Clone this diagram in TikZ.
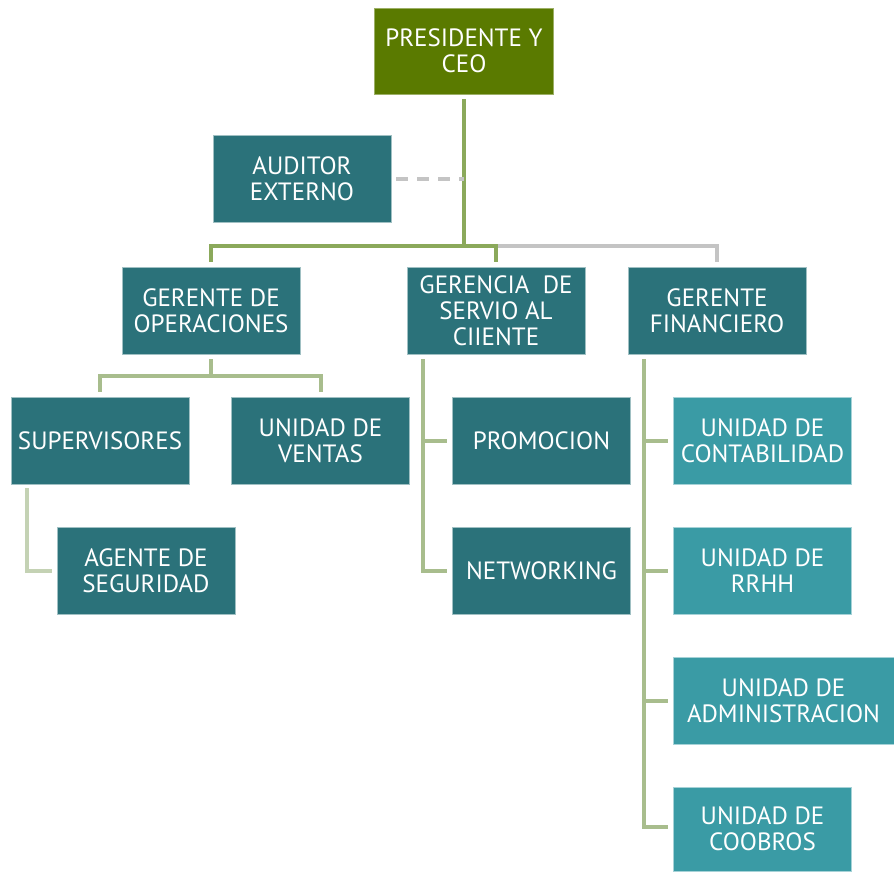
\documentclass[tikz,border=0pt]{standalone}
\usepackage{fontspec}
\setmainfont{PT Sans}
\definecolor{tealdark}{HTML}{2B727A}
\definecolor{teallight}{HTML}{3A9BA5}
\definecolor{olive}{HTML}{5A7A00}
\definecolor{gA}{HTML}{8BA95B}
\definecolor{gB}{HTML}{A8BD8D}
\definecolor{gC}{HTML}{C4D2B4}
\definecolor{grayline}{HTML}{C4C4C4}
\tikzset{
  box/.style={draw=white!55!tealdark, line width=0.6pt, fill=tealdark, text=white,
    font=\fontsize{25}{26}\selectfont, align=center, inner sep=0pt,
    minimum width=178pt, minimum height=87pt},
  lbox/.style={box, fill=teallight, draw=white!55!teallight},
  obox/.style={box, fill=olive, draw=white!40!olive},
  lnA/.style={draw=gA, line width=4pt},
  lnB/.style={draw=gB, line width=4pt},
  lnC/.style={draw=gC, line width=4pt},
  lnG/.style={draw=grayline, line width=4pt},
  lnD/.style={draw=grayline, line width=3.5pt, dash pattern=on 12pt off 9pt},
}
\begin{document}
\begin{tikzpicture}[x=1pt,y=-1pt]
\useasboundingbox (0,0) rectangle (894,871);
\node[obox, minimum width=179pt, minimum height=86pt] (ceo) at (464,51) {PRESIDENTE Y\\CEO};
\node[box] (aud) at (302,179) {AUDITOR\\EXTERNO};
\node[box] (ops) at (211,310.5) {GERENTE DE\\OPERACIONES};
\node[box] (ger) at (496,310.5) {GERENCIA~ DE\\SERVIO AL\\CIIENTE};
\node[box] (fin) at (717,310.5) {GERENTE\\FINANCIERO};
\node[box] (sup) at (100,440.5) {SUPERVISORES};
\node[box] (ven) at (320.5,440.5) {UNIDAD DE\\VENTAS};
\node[box] (age) at (146,570.5) {AGENTE DE\\SEGURIDAD};
\node[box] (pro) at (541.5,440.5) {PROMOCION};
\node[box] (net) at (541.5,570.5) {NETWORKING};
\node[lbox] (con) at (762.5,440.5) {UNIDAD DE\\CONTABILIDAD};
\node[lbox] (rrh) at (762.5,570.5) {UNIDAD DE\\RRHH};
\node[lbox, minimum width=221pt] (adm) at (783.5,700.5) {UNIDAD DE\\ADMINISTRACION};
\node[lbox, minimum height=84pt] (coo) at (762.5,829) {UNIDAD DE\\COOBROS};
% top level
\coordinate (bus) at (464,245.5);
\draw[lnG] (ger.north |- bus) -- (fin.north |- bus) -- ([yshift=5pt]fin.north);
\draw[lnA] ([yshift=-5pt]ceo.south) -- (bus);
\draw[lnA] ([yshift=5pt]ops.north) |- (bus) -| ([yshift=5pt]ger.north);
\draw[lnD] ([xshift=5pt]aud.east) -- ([yshift=0pt]aud.east -| bus);
% operations
\coordinate (ob) at (211,376);
\draw[lnB] ([yshift=-5pt]ops.south) -- (ob);
\draw[lnB] ([yshift=5pt]sup.north) |- (ob) -| ([yshift=5pt]ven.north);
\draw[lnC] ([xshift=16pt,yshift=-4pt]sup.south west) |- ([xshift=-5pt]age.west);
% gerencia
\coordinate (gv) at ([xshift=16pt,yshift=-5pt]ger.south west);
\draw[lnB] (gv) |- ([xshift=-5pt]net.west);
\draw[lnB] (gv |- pro.west) -- ([xshift=-5pt]pro.west);
% financiero
\coordinate (fv) at ([xshift=16pt,yshift=-5pt]fin.south west);
\draw[lnB] (fv) |- ([xshift=-5pt,yshift=2pt]coo.west);
\draw[lnB] (fv |- con.west) -- ([xshift=-5pt]con.west);
\draw[lnB] (fv |- rrh.west) -- ([xshift=-5pt]rrh.west);
\draw[lnB] (fv |- adm.west) -- ([xshift=-5pt]adm.west);
\end{tikzpicture}
\end{document}
